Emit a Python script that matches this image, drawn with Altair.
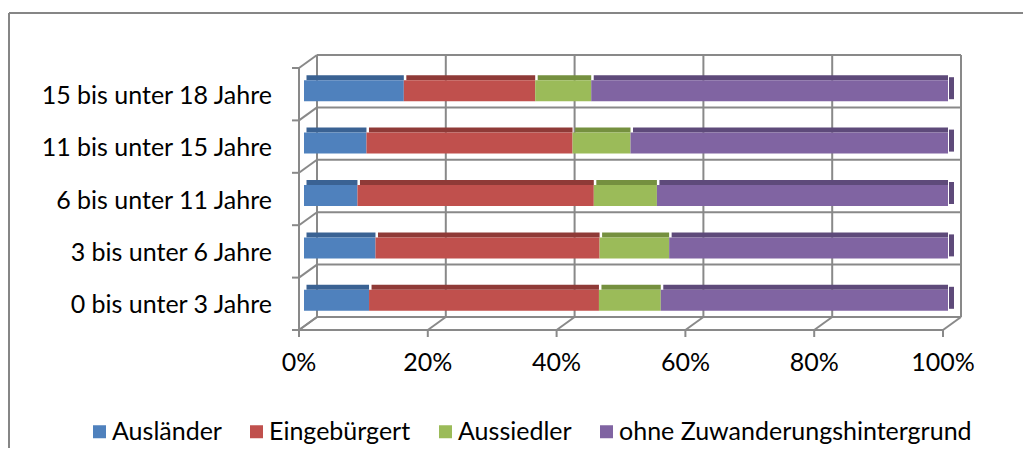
import altair as alt
import pandas as pd

# ---- data ----
categories = ["0 bis unter 3 Jahre", "3 bis unter 6 Jahre", "6 bis unter 11 Jahre",
              "11 bis unter 15 Jahre", "15 bis unter 18 Jahre"]          # bottom -> top
series = ["Ausländer", "Eingebürgert", "Aussiedler", "ohne Zuwanderungshintergrund"]
auslaender    = [10.1, 11.1, 8.3, 9.7, 15.5]
eingebuergert = [35.7, 34.8, 36.7, 32.0, 20.4]
aussiedler    = [9.6, 10.8, 9.8, 9.0, 8.7]
ohne          = [44.6, 43.3, 45.2, 49.3, 55.4]
tick_values = [0, 0.2, 0.4, 0.6, 0.8, 1.0]

colors = ["#4f81bd", "#c0504d", "#9bbb59", "#8064a2"]
dark_colors = ["#3a6293", "#8f3a37", "#75903f", "#5e4a7a"]
FONT = "Lato"
FS = 25
GRID = "#898989"
N = len(categories)

rows = []
for i, s in enumerate(series):
    vals = [auslaender, eingebuergert, aussiedler, ohne][i]
    for r, (c, v) in enumerate(zip(categories, vals)):
        rows.append({"cat": c, "series": s, "value": v, "idx": i, "yc": r + 0.5})
df = pd.DataFrame(rows)

grid_df = pd.DataFrame({"v": tick_values, "lo": 0, "hi": N})
bound_df = pd.DataFrame({"b": list(range(N + 1)), "zero": 0, "one": 1})
frame_df = pd.DataFrame({"zero": [0], "one": [1], "lo": [0], "hi": [N]})
cat_df = pd.DataFrame({"cat": categories, "yc": [r + 0.5 for r in range(N)],
                       "zero": 0, "v": 1.0})

xscale = alt.Scale(domain=[0, 1], nice=False, zero=False)
yscale = alt.Scale(domain=[0, N], nice=False, zero=False)


def X(f):
    return alt.X(f, scale=xscale, axis=None)


def Y(f):
    return alt.Y(f, scale=yscale, axis=None)


R = dict(color=GRID, strokeWidth=2)

back_v = alt.Chart(grid_df).mark_rule(xOffset=13, yOffset=-13, y2Offset=-13, **R).encode(
    x=X("v:Q"), y=Y("lo:Q"), y2="hi:Q")
back_h = alt.Chart(bound_df).mark_rule(xOffset=13, x2Offset=13, yOffset=-13, **R).encode(
    x=X("zero:Q"), x2="one:Q", y=Y("b:Q"))
left_d = alt.Chart(bound_df).mark_rule(xOffset=-5, x2Offset=13, y2Offset=-13, **R).encode(
    x=X("zero:Q"), x2="zero:Q", y=Y("b:Q"), y2="b:Q")
left_t = alt.Chart(bound_df).mark_rule(xOffset=-12, x2Offset=-5, **R).encode(
    x=X("zero:Q"), x2="zero:Q", y=Y("b:Q"))
left_v = alt.Chart(frame_df).mark_rule(xOffset=-5, y2Offset=7, **R).encode(
    x=X("zero:Q"), y=Y("hi:Q"), y2="lo:Q")
floor_f = alt.Chart(frame_df).mark_rule(xOffset=-5, x2Offset=-5, **R).encode(
    x=X("zero:Q"), x2="one:Q", y=Y("lo:Q"))
floor_d = alt.Chart(grid_df).mark_rule(xOffset=-5, x2Offset=13, y2Offset=-13, **R).encode(
    x=X("v:Q"), x2="v:Q", y=Y("lo:Q"), y2="lo:Q")
floor_t = alt.Chart(grid_df).mark_rule(xOffset=-5, y2Offset=7, **R).encode(
    x=X("v:Q"), y=Y("lo:Q"), y2="lo:Q")

# axis labels
x_labels = alt.Chart(grid_df).transform_calculate(
    lab="format(datum.v, '.0%')"
).mark_text(font=FONT, fontSize=FS, color="#000000", align="center", baseline="middle",
            xOffset=-5, yOffset=33).encode(x=X("v:Q"), y=Y("lo:Q"), text="lab:N")
y_labels = alt.Chart(cat_df).mark_text(font=FONT, fontSize=FS, color="#000000", align="right",
                                       baseline="middle", xOffset=-32, yOffset=1.5).encode(
    x=X("zero:Q"), y=Y("yc:Q"), text="cat:N")

stacked = alt.Chart(df).transform_stack(
    stack="value", groupby=["cat"], as_=["x0", "x1"], offset="normalize",
    sort=[alt.SortField("idx", order="ascending")],
)

bars = stacked.mark_bar(orient="horizontal", size=21, yOffset=-3.5).encode(
    x=X("x0:Q"), x2="x1:Q",
    y=Y("yc:Q"),
    color=alt.Color("series:N", scale=alt.Scale(domain=series, range=colors),
                    legend=alt.Legend(orient="none", legendX=-217, legendY=356,
                                      direction="horizontal", title=None,
                                      symbolType="square", symbolSize=169,
                                      symbolStrokeWidth=0, labelOffset=0,
                                      columnPadding=22, labelFont=FONT,
                                      labelFontSize=FS, labelColor="#000000",
                                      labelLimit=500)),
)

tops = []
for s, dc in zip(series, dark_colors):
    tops.append(
        stacked.transform_filter(alt.datum.series == s).mark_bar(
            orient="horizontal", size=5, yOffset=-16.5, xOffset=2.5, color=dc).encode(
            x=X("x0:Q"), x2="x1:Q", y=Y("yc:Q"))
    )

side = alt.Chart(cat_df).mark_rule(color=dark_colors[3], strokeWidth=5, xOffset=3.5,
                                   yOffset=-17, y2Offset=5).encode(
    x=X("v:Q"), y=Y("yc:Q"), y2="yc:Q")

border_l = alt.Chart(frame_df).mark_rule(color="#868686", strokeWidth=2).encode(
    x=alt.value(-295), y=alt.value(-50), y2=alt.value(420))
border_t = alt.Chart(frame_df).mark_rule(color="#868686", strokeWidth=2).encode(
    x=alt.value(-295), x2=alt.value(740), y=alt.value(-50))

chart = alt.layer(
    border_l, border_t,
    back_v, back_h, left_d, left_t, left_v, floor_f, floor_d, floor_t,
    *tops, bars, side, x_labels, y_labels,
).properties(
    width=644, height=272,
    autosize=alt.AutoSizeParams(type="none"),
    padding={"left": 296, "top": 55, "right": 75, "bottom": 113},
).configure_view(stroke=None)

chart.save("out.html", embed_options={"renderer": "svg", "actions": False})
